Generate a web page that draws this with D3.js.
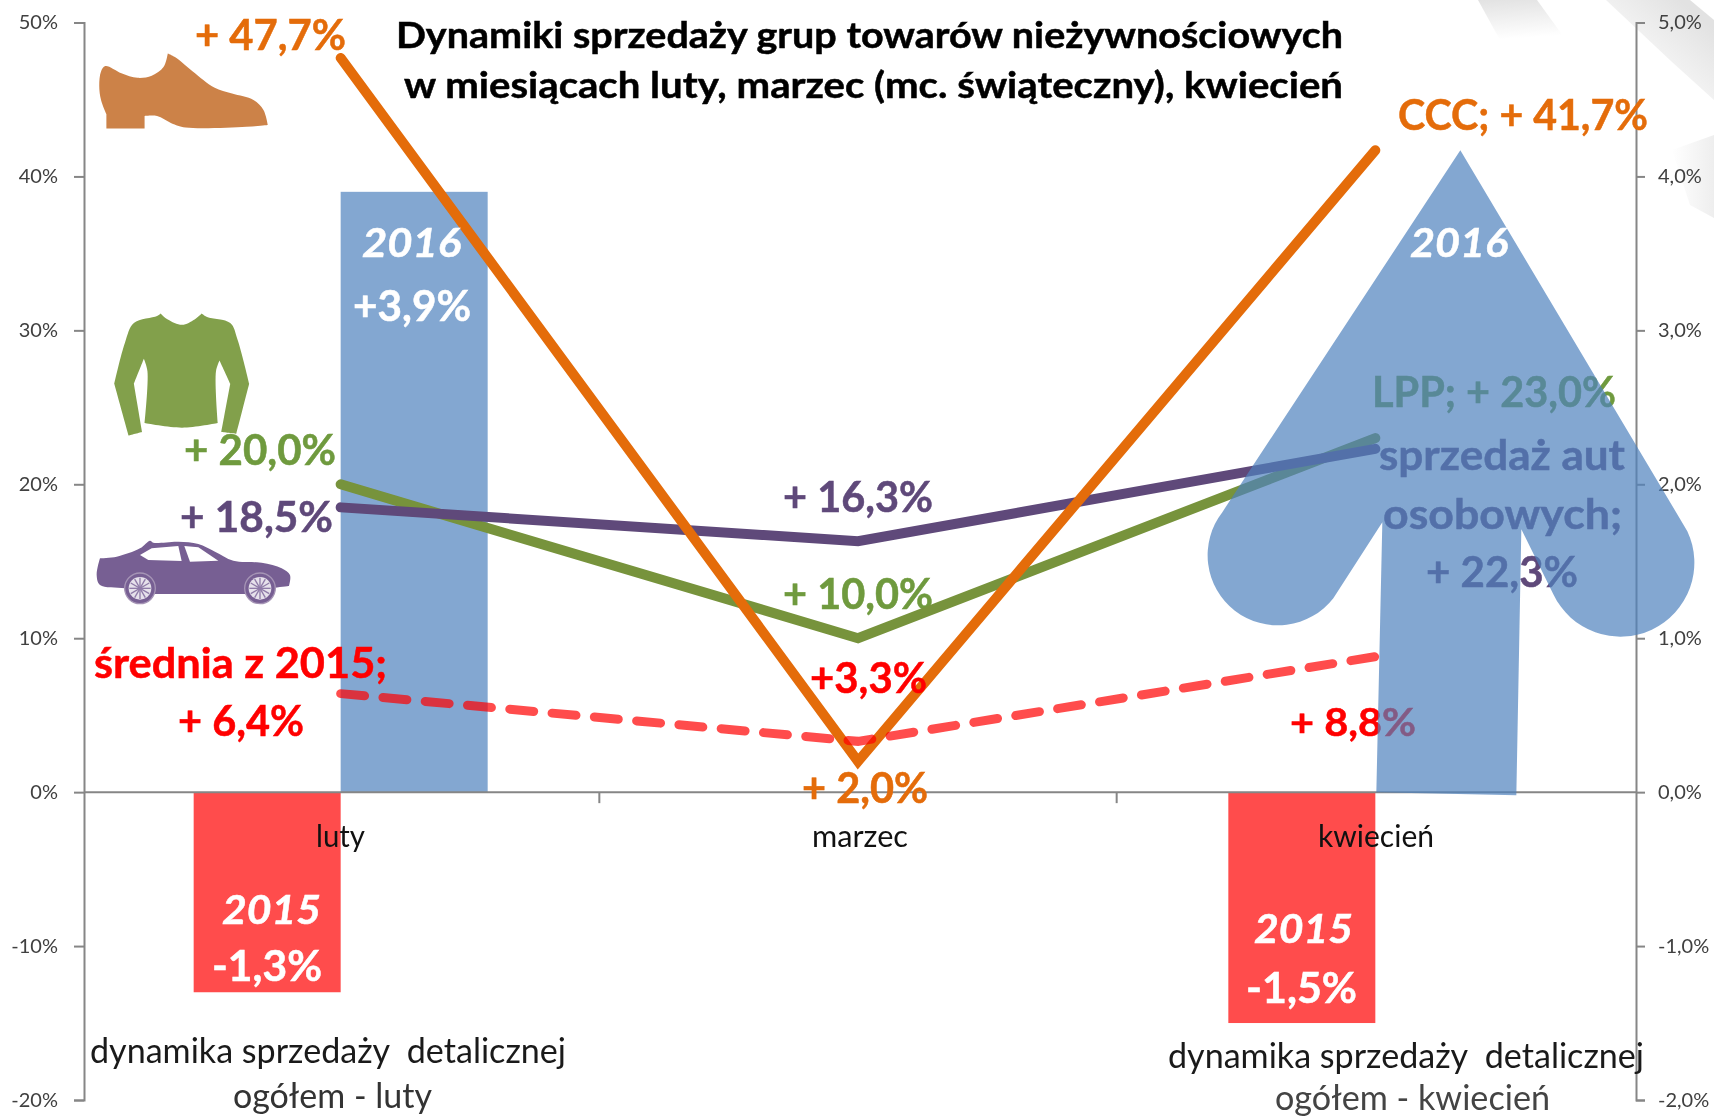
<!DOCTYPE html>
<html lang="pl">
<head>
<meta charset="utf-8">
<title>Dynamiki sprzedaży</title>
<script src="https://cdn.jsdelivr.net/npm/d3@7"></script>
<style>
  html, body { margin: 0; padding: 0; background: #fff; }
  svg { display: block; filter: blur(0.6px); }
  text { font-family: Lato, "Open Sans", sans-serif; white-space: pre; }
  .tick text { fill: #404040; font-size: 20px; }
</style>
</head>
<body>
<div id="chart"></div>
<script>
// Data
const months = ["luty", "marzec", "kwiecień"];
const retail2015 = [-1.3, null, -1.5];
const retail2016 = [3.9, null, null];
const retailArrow2016 = 4.17; // april 2016 is drawn as an arrow, not as a bar
const shoes = [47.7, 2.0, 41.7];
const clothes = [20.0, 10.0, 23.0];
const cars = [18.5, 16.3, 22.3];
const average2015 = [6.4, 3.3, 8.8];
const leftTicks = [-20, -10, 0, 10, 20, 30, 40, 50];
const rightTicks = [-2, -1, 0, 1, 2, 3, 4, 5];

const width = 1714;
const height = 1118;

const orange = "#E46C0A";
const green = "#77933C";
const purple = "#5F497A";
const red = "#FF0000";
const blue = "#4F81BD";

const svg = d3.select("#chart").append("svg").attr("width", width).attr("height", height);

// Scales
const x = d3.scaleBand().domain(months).range([82, 1634]);
const yLeft = d3.scaleLinear().domain([-20, 50]).range([1100, 22.5]);
const yRight = d3.scaleLinear().domain([-2, 5]).range([1100, 22.5]);
const barW = 147;

// Faint grey streaks from the slide background, top right corner
const defs = svg.append("defs");
function gradient(id, x1, y1, x2, y2, colour) {
  const g = defs.append("linearGradient").attr("id", id)
    .attr("x1", x1).attr("y1", y1).attr("x2", x2).attr("y2", y2);
  g.append("stop").attr("offset", 0).attr("stop-color", colour);
  g.append("stop").attr("offset", 1).attr("stop-color", "#ffffff");
}
gradient("fadeDown", 0, 0, 0.15, 1, "#e2e2e2");
gradient("fadeDiag", 0.9, 0.2, 0.25, 0.9, "#e2e2e2");
gradient("fadeLeft", 1, 0.5, 0, 0.5, "#eeeeee");
const streaks = [
  ["1478,0 1537,0 1566,40 1500,40", "fadeDown"],
  ["1606,0 1690,0 1714,20 1714,100 1672,62", "fadeDiag"],
  ["1672,150 1714,135 1714,218 1690,205", "fadeLeft"]
];
svg.append("g").selectAll("polygon").data(streaks).join("polygon")
  .attr("points", d => d[0])
  .attr("fill", d => `url(#${d[1]})`);

// Bars, they belong to the right axis
const gBars = svg.append("g").attr("fill-opacity", 0.7);
gBars.selectAll(".b15").data(months.filter((m, i) => retail2015[i] !== null)).join("rect")
  .attr("class", "b15")
  .attr("x", d => x(d) + x.bandwidth() / 2 - barW)
  .attr("width", barW)
  .attr("y", yRight(0))
  .attr("height", d => yRight(retail2015[months.indexOf(d)]) - yRight(0))
  .attr("fill", red);
gBars.selectAll(".b16").data(months.filter((m, i) => retail2016[i] !== null)).join("rect")
  .attr("class", "b16")
  .attr("x", d => x(d) + x.bandwidth() / 2)
  .attr("width", barW)
  .attr("y", d => yRight(retail2016[months.indexOf(d)]))
  .attr("height", d => yRight(0) - yRight(retail2016[months.indexOf(d)]))
  .attr("fill", blue);

// Axes
function styleAxis(g) {
  g.selectAll("path, line").attr("stroke", "#868686").attr("stroke-width", 2);
}
svg.append("g")
  .attr("transform", "translate(84,0)")
  .call(d3.axisLeft(yLeft).tickValues(leftTicks).tickSize(10).tickPadding(16).tickFormat(d => d + "%"))
  .call(styleAxis);
svg.append("g")
  .attr("transform", "translate(1636,0)")
  .call(d3.axisRight(yRight).tickValues(rightTicks).tickSize(9).tickPadding(13)
    .tickFormat(d => d.toFixed(1).replace(".", ",") + "%"))
  .call(styleAxis);
const xAxis = svg.append("g").attr("transform", `translate(0,${yLeft(0)})`);
xAxis.append("line").attr("x1", 84).attr("x2", 1636)
  .attr("stroke", "#868686").attr("stroke-width", 2);
xAxis.selectAll("line.tk").data(months.slice(1)).join("line")
  .attr("class", "tk")
  .attr("x1", d => x(d)).attr("x2", d => x(d))
  .attr("y1", 0).attr("y2", 11)
  .attr("stroke", "#868686").attr("stroke-width", 2);

// Text table: text, left, right, baseline, size, colour, bold, italic
const notesUnder = [
  ["+ 47,7%", 195, 346, 50, 42, orange, 1, 0],
  ["+ 20,0%", 184, 336, 465, 42, "#6F9A3E", 1, 0],
  ["+ 18,5%", 180, 333, 532, 42, purple, 1, 0],
  ["+ 16,3%", 783, 933, 512, 42, purple, 1, 0],
  ["+ 10,0%", 783, 933, 609, 42, "#6F9A3E", 1, 0],
  ["+ 2,0%", 802, 928, 803, 42, orange, 1, 0],
  ["CCC; + 41,7%", 1398, 1648, 130, 42, orange, 1, 0],
  ["LPP; + 23,0%", 1372, 1616, 407, 42, "#6F9A3E", 1, 0],
  ["sprzedaż aut", 1379, 1625, 470, 42, purple, 1, 0],
  ["osobowych;", 1383, 1622, 529, 42, purple, 1, 0],
  ["+ 22,3%", 1426, 1578, 587, 42, purple, 1, 0],
  ["+ 8,8%", 1290, 1416, 736, 38, red, 1, 0]
];
const notesOver = [
  ["Dynamiki sprzedaży grup towarów nieżywnościowych", 396, 1343, 48, 37, "#000", 1, 0],
  ["w miesiącach luty, marzec (mc. świąteczny), kwiecień", 404, 1343, 98, 37, "#000", 1, 0],
  ["2016", 362, 461, 257, 41, "#fff", 1, 1],
  ["+3,9%", 353, 471, 321, 42, "#fff", 1, 0],
  ["2016", 1410, 1508, 257, 41, "#fff", 1, 1],
  ["2015", 222, 321, 924, 41, "#fff", 1, 1],
  ["-1,3%", 212, 322, 981, 42, "#fff", 1, 0],
  ["2015", 1254, 1353, 943, 41, "#fff", 1, 1],
  ["-1,5%", 1246, 1357, 1003, 42, "#fff", 1, 0],
  ["średnia z 2015;", 94, 387, 678, 42, red, 1, 0],
  ["+ 6,4%", 178, 304, 736, 42, red, 1, 0],
  ["+3,3%", 810, 927, 693, 42, red, 1, 0],
  ["luty", 316, 365, 847, 31, "#111", 0, 0],
  ["marzec", 812, 908, 847, 31, "#111", 0, 0],
  ["kwiecień", 1318, 1434, 847, 31, "#111", 0, 0],
  ["dynamika sprzedaży\u00a0 detalicznej", 90, 566, 1063, 34, "#1a1a1a", 0, 0],
  ["ogółem - luty", 233, 432, 1108, 34, "#333", 0, 0],
  ["dynamika sprzedaży\u00a0 detalicznej", 1168, 1644, 1068, 34, "#1a1a1a", 0, 0],
  ["ogółem - kwiecień", 1275, 1550, 1110, 34, "#444", 0, 0]
];
function drawNotes(list) {
  svg.append("g").selectAll("text").data(list).join("text")
    .attr("x", d => d[1])
    .attr("y", d => d[3])
    .attr("textLength", d => d[2] - d[1])
    .attr("lengthAdjust", "spacingAndGlyphs")
    .attr("font-size", d => d[4])
    .attr("fill", d => d[5])
    .attr("font-weight", d => d[6] ? 700 : 400)
    .attr("font-style", d => d[7] ? "italic" : "normal")
    .attr("stroke", d => d[6] ? d[5] : "none")
    .attr("stroke-width", 0.5)
    .text(d => d[0]);
}
drawNotes(notesUnder);

// Lines, they belong to the left axis
const line = d3.line()
  .x((d, i) => x(months[i]) + x.bandwidth() / 2)
  .y(d => yLeft(d));
const lineSeries = [
  [clothes, green, null],
  [cars, purple, null],
  [shoes, orange, null],
  [average2015, red, "24 18.46"]
];
svg.append("g").selectAll("path").data(lineSeries).join("path")
  .attr("d", d => line(d[0]))
  .attr("fill", "none")
  .attr("stroke", d => d[1])
  .attr("stroke-opacity", d => d[2] ? 0.7 : 1)
  .attr("stroke-width", d => d[2] ? 9 : 10)
  .attr("stroke-linecap", "round")
  .attr("stroke-linejoin", "miter")
  .attr("stroke-dasharray", d => d[2]);

// April 2016 arrow, base on the zero line and tip on its value
const ax = x("kwiecień") + x.bandwidth() / 2;
const ay = yRight(0);
const arrow = d3.path();
arrow.moveTo(ax + 85, yRight(retailArrow2016));
arrow.lineTo(ax + 312, ay - 261);
let arrowD = arrow.toString()
  + `A74,74 0 0 1 ${ax + 178},${ay - 198}`
  + `L${ax + 146},${ay - 263}L${ax + 141},${ay + 3}L${ax + 1},${ay}L${ax + 7},${ay - 270}`
  + `L${ax - 42},${ay - 194}A70,70 0 0 1 ${ax - 153},${ay - 280}Z`;
svg.append("path").attr("d", arrowD).attr("fill", blue).attr("fill-opacity", 0.7);

drawNotes(notesOver);

// Icons, drawn in zoomed picture units. A repeated point keeps a corner sharp in the curve
const outline = d3.line().curve(d3.curveCatmullRomClosed.alpha(0.5));
const shoePts = [[295,185],[340,205],[385,218],[425,212],[458,188],[470,150],[470,150],[490,160],[540,200],[600,245],[650,262],[710,280],[738,308],[750,350],[750,350],[690,355],[520,357],[480,345],[440,325],[405,325],[405,325],[405,360],[405,360],[298,360],[298,360],[298,320],[298,320],[283,280],[278,240],[283,200]];
const shirtPts = [[375,905],[440,885],[450,878],[450,878],[470,895],[510,910],[545,895],[565,878],[565,878],[580,888],[645,905],[665,950],[698,1075],[698,1075],[662,1215],[662,1215],[620,1210],[620,1210],[645,1075],[645,1075],[615,1010],[615,1010],[605,1040],[610,1185],[610,1185],[510,1198],[405,1185],[405,1185],[413,1040],[403,1005],[403,1005],[375,1075],[375,1075],[398,1210],[398,1210],[360,1220],[360,1220],[320,1075],[320,1075],[350,960]];
const icons = svg.append("g");
icons.append("path").attr("transform", "scale(0.357)").attr("d", outline(shoePts)).attr("fill", "#CC8248");
icons.append("path").attr("transform", "scale(0.357)").attr("d", outline(shirtPts)).attr("fill", "#82A04B");

const carPts = [[45,115],[45,115],[95,110],[165,85],[195,62],[205,68],[280,65],[340,72],[390,95],[445,122],[530,128],[590,145],[615,165],[612,198],[612,198],[560,205],[480,222],[480,222],[210,222],[210,222],[120,205],[45,195],[35,165]];
const windows = [
  [[165,105],[200,85],[280,78],[290,123],[190,120]],
  [[298,78],[340,82],[400,122],[315,125]]
];
const car = icons.append("g").attr("transform", "translate(85,520) scale(0.3333)");
car.append("path").attr("d", outline(carPts)).attr("fill", "#775F93");
car.selectAll(".win").data(windows).join("polygon")
  .attr("class", "win")
  .attr("points", d => d.join(" "))
  .attr("fill", "#fff");
const wheels = car.selectAll(".wheel").data([165, 525]).join("g")
  .attr("class", "wheel")
  .attr("transform", d => `translate(${d},205)`);
wheels.append("circle").attr("r", 46).attr("fill", "#775F93").attr("stroke", "#A594B5").attr("stroke-width", 4);
wheels.append("circle").attr("r", 34).attr("fill", "#E6E1EB");
wheels.selectAll("line").data(d3.range(0, 180, 30)).join("line")
  .attr("x1", -32).attr("x2", 32)
  .attr("transform", d => `rotate(${d})`)
  .attr("stroke", "#8F7BA8").attr("stroke-width", 4);
</script>
</body>
</html>
